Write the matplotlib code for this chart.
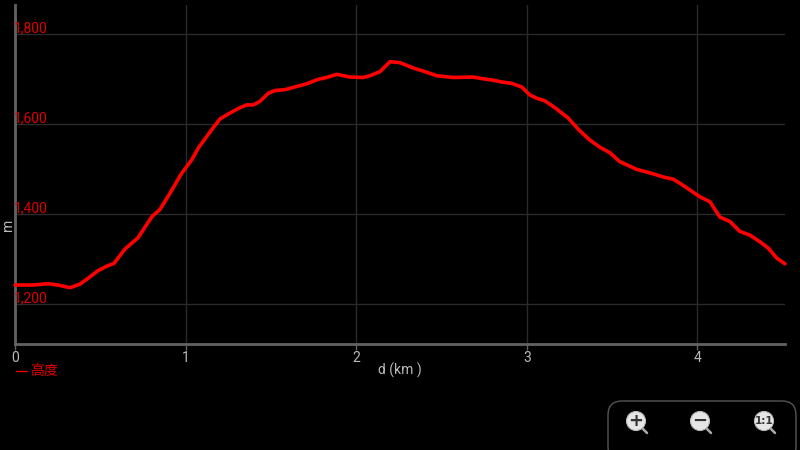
import matplotlib
matplotlib.use("Agg")
import matplotlib.pyplot as plt
from matplotlib.patches import FancyBboxPatch, Circle
from matplotlib.lines import Line2D

plt.rcParams['font.family'] = ['Roboto', 'Noto Sans CJK SC', 'DejaVu Sans']

dist_km = [0.000, 0.106, 0.193, 0.252, 0.322, 0.381, 0.428, 0.487, 0.539, 0.580,
           0.645, 0.721, 0.803, 0.850, 0.909, 0.955, 0.977, 1.036, 1.074, 1.153,
           1.202, 1.260, 1.319, 1.358, 1.397, 1.436, 1.485, 1.524, 1.583, 1.651,
           1.710, 1.778, 1.827, 1.886, 1.964, 2.042, 2.081, 2.140, 2.198, 2.257,
           2.335, 2.403, 2.472, 2.569, 2.686, 2.745, 2.804, 2.853, 2.911, 2.970,
           3.019, 3.058, 3.107, 3.165, 3.243, 3.302, 3.370, 3.429, 3.487, 3.546,
           3.644, 3.741, 3.800, 3.859, 3.898, 3.957, 4.015, 4.074, 4.132, 4.191,
           4.250, 4.308, 4.367, 4.416, 4.465, 4.514]
elev_m = [1242, 1242, 1245, 1242, 1236, 1244, 1257, 1274, 1284, 1290,
          1322, 1347, 1394, 1410, 1446, 1476, 1490, 1520, 1546, 1587,
          1611, 1624, 1636, 1642, 1642, 1650, 1668, 1674, 1676, 1683,
          1689, 1699, 1703, 1710, 1704, 1703, 1707, 1716, 1738, 1736,
          1724, 1716, 1707, 1703, 1704, 1700, 1697, 1693, 1690, 1682,
          1664, 1657, 1651, 1636, 1613, 1588, 1564, 1548, 1536, 1516,
          1499, 1489, 1482, 1477, 1468, 1453, 1438, 1427, 1393, 1383,
          1361, 1353, 1338, 1324, 1302, 1289]

x_ticks = [0, 1, 2, 3, 4]
y_ticks = [1200, 1400, 1600, 1800]
y_tick_labels = ["1,200", "1,400", "1,600", "1,800"]
x_label = "d (km )"
y_label = "m"
legend_label = "高度"

fig = plt.figure(figsize=(8, 4.5), dpi=100, facecolor='black')
ax = fig.add_axes([15/800, 1-344/450, 770/800, 339/450])
ax.set_facecolor('black')
ax.plot(dist_km, elev_m, color='#ff0000', lw=2.6, solid_joinstyle='round',
        solid_capstyle='round', zorder=3, clip_on=False)
ax.set_xlim(0, 4.514)
ax.set_ylim(1111, 1864)

for s in ['top', 'right']:
    ax.spines[s].set_visible(False)
for s in ['left', 'bottom']:
    ax.spines[s].set_color('#626262')
    ax.spines[s].set_linewidth(2)

ax.set_xticks(x_ticks)
ax.set_xticklabels([str(t) for t in x_ticks])
ax.tick_params(axis='x', colors='#626262', length=4, width=1, labelcolor='#bbbbbb',
               labelsize=10, pad=1)
ax.set_yticks(y_ticks)
ax.set_yticklabels([])
ax.tick_params(axis='y', length=0)
for v, lab in zip(y_ticks, y_tick_labels):
    ax.text(-0.002, v - 3, lab, transform=ax.get_yaxis_transform(), color='#e00000',
            fontsize=10, ha='left', va='bottom', zorder=6)

ax.grid(True, color='#2a2a2a', lw=1)
ax.set_axisbelow(True)

fig.text(400/800, 1-370/450, x_label, color='#bbbbbb', fontsize=10, ha='center', va='center')
fig.text(8/800, 1-225/450, y_label, color='#bbbbbb', fontsize=10, ha='center', va='center',
         rotation=90)

# legend
fig.add_artist(Line2D([16/800, 27/800], [1-371/450, 1-371/450], color='#e00000', lw=1))
fig.text(30/800, 1-371/450, legend_label, color='#e00000', fontsize=10, ha='left', va='center',
         family=['Noto Sans CJK SC', 'DejaVu Sans'])

# zoom controls overlay
ov = fig.add_axes([0, 0, 1, 1], facecolor='none')
ov.set_xlim(0, 800)
ov.set_ylim(450, 0)
ov.axis('off')
ov.add_patch(FancyBboxPatch((608, 401), 188, 60, boxstyle='round,pad=0,rounding_size=14',
                            fc='black', ec='#555555', lw=1))
for cx, glyph in [(636, '+'), (700, '−'), (764, '1:1')]:
    ov.plot([cx + 7, cx + 11], [421 + 8, 421 + 12], color='#aaaaaa', lw=1.8,
            solid_capstyle='round')
    ov.add_patch(Circle((cx, 421), 9.5, fc='#e6e6e6', ec='#bbbbbb', lw=0.8))
    fs = 13 if glyph != '1:1' else 7.5
    ov.text(cx, 421, glyph, color='#333333', fontsize=fs, fontweight='bold',
            ha='center', va='center', family='DejaVu Sans')

fig.savefig('out.png', dpi=100, facecolor='black')
